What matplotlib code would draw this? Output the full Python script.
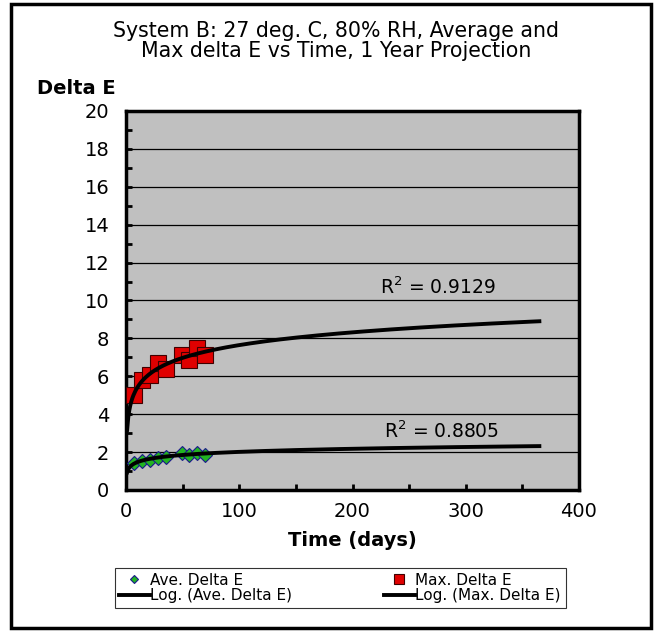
import matplotlib.pyplot as plt
import numpy as np
from matplotlib.patches import Rectangle

plt.rcParams['font.family'] = ['DejaVu Sans']

# data
days = [7, 14, 21, 28, 35, 49, 56, 63, 70]
ave_de = [1.4, 1.55, 1.6, 1.7, 1.75, 1.95, 1.85, 1.95, 1.85]
max_de = [5.0, 5.8, 6.05, 6.7, 6.4, 7.1, 6.85, 7.5, 7.1]
r2_labels = ["R$^2$ = 0.8805", "R$^2$ = 0.9129"]
x_ticks = [0, 100, 200, 300, 400]
y_ticks = [0, 2, 4, 6, 8, 10, 12, 14, 16, 18, 20]

fig = plt.figure(figsize=(6.54, 6.31), dpi=100)
ax = fig.add_axes([0.1927, 0.2235, 0.6926, 0.6006])
ax.set_facecolor('#c0c0c0')

# log trendlines, fitted and projected to one year
xt = np.linspace(1, 365, 400)
ca = np.polyfit(np.log(days), ave_de, 1)
cm = np.polyfit(np.log(days), max_de, 1)

ax.plot(days, ave_de, 'D', ms=7, mfc='#22b422', mec='#1a1a8c', mew=0.8,
        label='Ave. Delta E', zorder=3)
ax.plot(days, max_de, 's', ms=12, mfc='#e00000', mec='#400000', mew=0.8,
        label='Max. Delta E', zorder=3)
ax.plot(xt, np.polyval(ca, np.log(xt)), color='black', lw=2.8,
        label='Log. (Ave. Delta E)', zorder=4)
ax.plot(xt, np.polyval(cm, np.log(xt)), color='black', lw=2.8,
        label='Log. (Max. Delta E)', zorder=4)

ax.text(228, 3.1, r2_labels[0], fontsize=13.5, va='center')
ax.text(224, 10.7, r2_labels[1], fontsize=13.5, va='center')

ax.set_xlim(0, 400)
ax.set_ylim(0, 20)
ax.set_xticks(x_ticks)
ax.set_yticks(y_ticks)
ax.set_xticks([50, 150, 250, 350], minor=True)
ax.set_yticks(np.arange(1, 20, 2), minor=True)
ax.tick_params(which='both', direction='in', length=4, width=2,
               labelsize=14, pad=12)
ax.tick_params(axis='x', pad=9)
ax.yaxis.grid(True, color='black', lw=0.9)
ax.set_axisbelow(True)
for s in ax.spines.values():
    s.set_linewidth(2.5)

ax.set_xlabel('Time (days)', fontsize=14, fontweight='bold', labelpad=7)
fig.text(0.057, 0.86, 'Delta E', fontsize=14, fontweight='bold', va='center')
fig.text(0.514, 0.935, 'System B: 27 deg. C, 80% RH, Average and\n'
         'Max delta E vs Time, 1 Year Projection',
         fontsize=14.8, ha='center', va='center', linespacing=0.95)

h, l = ax.get_legend_handles_labels()
order = [0, 2, 1, 3]
leg = fig.legend([h[i] for i in order], [l[i] for i in order], ncol=2,
                 loc='center', bbox_to_anchor=(0.52, 0.068),
                 fontsize=11, frameon=True, fancybox=False, edgecolor='black',
                 borderpad=0.3, handlelength=2.0, handletextpad=0.05,
                 columnspacing=6.0, labelspacing=0.05, markerscale=0.6)
leg.get_frame().set_linewidth(0.8)

fig.patches.append(Rectangle((0.017, 0.005), 0.978, 0.988, transform=fig.transFigure,
                             fill=False, lw=2.5, edgecolor='black'))

fig.savefig('out.png', dpi=100)
